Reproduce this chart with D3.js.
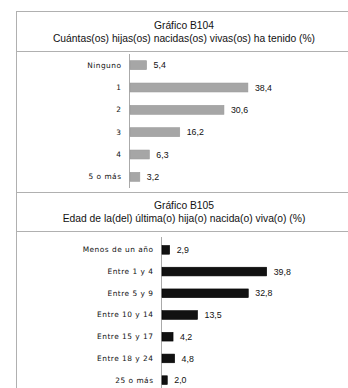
<!DOCTYPE html>
<html>
<head>
<meta charset="utf-8">
<script src="https://cdn.jsdelivr.net/npm/d3@7/dist/d3.min.js"></script>
<style>
  html, body { margin: 0; padding: 0; background: #fff; }
  svg { display: block; }
</style>
</head>
<body>
<svg id="chart" width="348" height="388"></svg>
<script>
// Gráfico B104: number of live-born children
const hijosCategorias = ["Ninguno", "1", "2", "3", "4", "5 o más"];
const hijosValores = [5.4, 38.4, 30.6, 16.2, 6.3, 3.2];

// Gráfico B105: age of the last live-born child
const edadCategorias = ["Menos de un año", "Entre 1 y 4", "Entre 5 y 9", "Entre 10 y 14",
  "Entre 15 y 17", "Entre 18 y 24", "25 o más"];
const edadValores = [2.9, 39.8, 32.8, 13.5, 4.2, 4.8, 2.0];

const titulos = [
  ["Gráfico B104", "Cuántas(os) hijas(os) nacidas(os) vivas(os) ha tenido (%)"],
  ["Gráfico B105", "Edad de la(del) última(o) hija(o) nacida(o) viva(o) (%)"]
];

const svg = d3.select("#chart");
const frameColor = "#b0b0b0";
const fmt = v => d3.format(".1f")(v).replace(".", ",");
const titleFont = "'Liberation Sans', Arial, sans-serif";
const labelFont = "'DejaVu Sans', sans-serif";

// outer frame: left edge plus horizontal rules
svg.append("line").attr("x1", 16.5).attr("x2", 16.5).attr("y1", 11).attr("y2", 388)
  .attr("stroke", frameColor);
[11.5, 51.5, 192.5, 231.5].forEach(y =>
  svg.append("line").attr("x1", 16).attr("x2", 348).attr("y1", y).attr("y2", y)
    .attr("stroke", frameColor));

function drawTitle(lines, y1, y2) {
  [y1, y2].forEach((y, i) =>
    svg.append("text").attr("x", 184).attr("y", y)
      .attr("text-anchor", "middle")
      .attr("font-family", titleFont).attr("font-size", 10.3)
      .attr("fill", "#111").text(lines[i]));
}

function drawBars(cfg) {
  const y = d3.scaleBand().domain(cfg.cats).range([cfg.top, cfg.bottom]).paddingInner(0.6).paddingOuter(0.3);
  const x = d3.scaleLinear().domain([0, 40]).range([cfg.x0, cfg.x0 + cfg.span]);
  const g = svg.append("g");

  const axis = d3.axisLeft(y).tickSize(0).tickPadding(8);
  const ax = g.append("g").attr("transform", `translate(${cfg.x0 - 0.5},0)`).call(axis);
  ax.select(".domain").attr("d", `M0,${cfg.axisTop}V${cfg.axisBottom}`).attr("stroke", "#aaa");
  ax.selectAll("text").attr("font-family", labelFont).attr("font-size", 7.4)
    .attr("letter-spacing", 0.5).attr("fill", "#111");

  g.selectAll("rect").data(cfg.vals).join("rect")
    .attr("x", x(0)).attr("y", (d, i) => y(cfg.cats[i]))
    .attr("width", d => x(d) - x(0)).attr("height", y.bandwidth())
    .attr("fill", cfg.color).attr("stroke", cfg.stroke).attr("stroke-width", 0.6);

  g.selectAll("text.val").data(cfg.vals).join("text").attr("class", "val")
    .attr("x", d => x(d) + 7).attr("y", (d, i) => y(cfg.cats[i]) + y.bandwidth() / 2)
    .attr("dy", "0.35em").attr("font-family", titleFont).attr("font-size", 8.8)
    .attr("fill", "#111").text(fmt);
}

drawTitle(titulos[0], 29, 42);
drawBars({
  cats: hijosCategorias, vals: hijosValores,
  top: 54, bottom: 188, x0: 130, span: 122.8,
  axisTop: 54, axisBottom: 188,
  color: "#a6a6a6", stroke: "#9a9a9a"
});

drawTitle(titulos[1], 209, 222);
drawBars({
  cats: edadCategorias, vals: edadValores,
  top: 239, bottom: 391, x0: 162, span: 105.2,
  axisTop: 237, axisBottom: 388,
  color: "#111", stroke: "#000"
});
</script>
</body>
</html>
